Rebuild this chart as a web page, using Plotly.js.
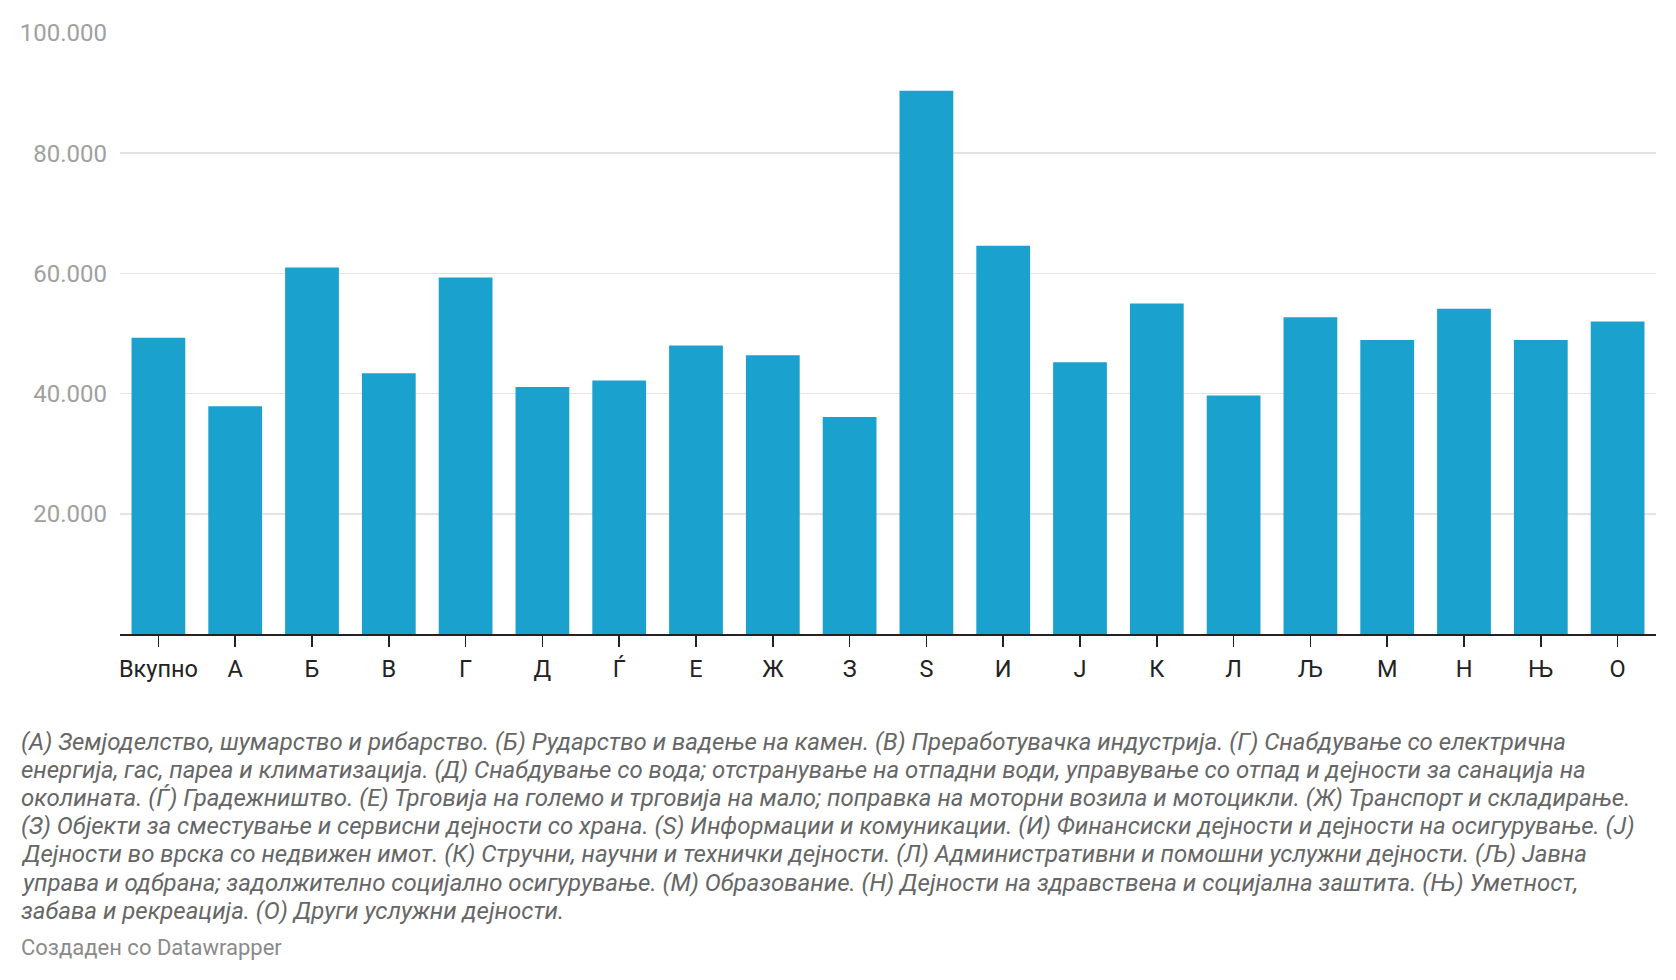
<!DOCTYPE html>
<html>
<head>
<meta charset="utf-8">
<script src="https://cdn.plot.ly/plotly-3.0.1.min.js"></script>
<style>
  body { margin: 0; background: #fff; }
  #plot { width: 1676px; height: 980px; }
</style>
</head>
<body>
<div id="plot"></div>
<script>
var categories = ["Вкупно", "А", "Б", "В", "Г", "Д", "Ѓ", "Е", "Ж", "З",
                  "S", "И", "Ј", "К", "Л", "Љ", "М", "Н", "Њ", "О"];
var values = [49300, 37900, 61000, 43400, 59300, 41100, 42200, 48000, 46400, 36100,
              90400, 64600, 45200, 55000, 39700, 52700, 48900, 54100, 48900, 52000];
var yTicks = [20000, 40000, 60000, 80000, 100000];

var noteLines = [
    "(А) Земјоделство, шумарство и рибарство. (Б) Рударство и вадење на камен. (В) Преработувачка индустрија. (Г) Снабдување со електрична",
    "енергија, гас, пареа и климатизација. (Д) Снабдување со вода; отстранување на отпадни води, управување со отпад и дејности за санација на",
    "околината. (Ѓ) Градежништво. (Е) Трговија на големо и трговија на мало; поправка на моторни возила и мотоцикли. (Ж) Транспорт и складирање.",
    "(З) Објекти за сместување и сервисни дејности со храна. (S) Информации и комуникации. (И) Финансиски дејности и дејности на осигурување. (Ј)",
    "Дејности во врска со недвижен имот. (К) Стручни, научни и технички дејности. (Л) Административни и помошни услужни дејности. (Љ) Јавна",
    "управа и одбрана; задолжително социјално осигурување. (М) Образование. (Н) Дејности на здравствена и социјална заштита. (Њ) Уметност,",
    "забава и рекреација. (О) Други услужни дејности."
];
var credit = "Создаден со Datawrapper";

function plot(){
    var W = 1676, H = 980;
    var m = {l: 120, r: 20, t: 33, b: 346};
    var pw = W - m.l - m.r, ph = H - m.t - m.b;
    // pixel -> paper helpers for the footnote block
    function px(x){ return (x - m.l) / pw; }
    function py(y){ return (H - m.b - y) / ph; }

    var trace = {
        type: "bar",
        x: categories,
        y: values,
        marker: {color: "#1aa1cd"},
        hoverinfo: "x+y"
    };
    var layout = {
        width: W,
        height: H,
        margin: m,
        paper_bgcolor: "#fff",
        plot_bgcolor: "#fff",
        separators: ",.",
        bargap: 0.3,
        showlegend: false,
        font: {family: "Roboto, sans-serif", color: "#222"},
        xaxis: {
            type: "category",
            showgrid: false,
            showline: true,
            linecolor: "#222",
            linewidth: 2,
            ticks: "outside",
            ticklen: 11,
            tickwidth: 1.5,
            tickcolor: "#222",
            ticklabelstandoff: 2,
            tickfont: {size: 23.5, color: "#222"},
            fixedrange: true
        },
        yaxis: {
            range: [0, 100000],
            tickvals: yTicks,
            tickformat: ",d",
            showgrid: true,
            gridcolor: "#e3e3e3",
            gridwidth: 1.5,
            zeroline: false,
            showline: false,
            ticks: "",
            ticklabelstandoff: 12,
            tickfont: {size: 24, color: "#a0a0a0"},
            fixedrange: true
        },
        annotations: []
    };
    // footnote lines, one annotation each so the line spacing can be set
    var lineY = [742, 770, 798, 826, 854, 883, 911];
    for (var i = 0; i < noteLines.length; i++){
        layout.annotations.push({
            xref: "paper", yref: "paper",
            x: px(19), y: py(lineY[i]),
            xanchor: "left", yanchor: "middle",
            align: "left",
            showarrow: false,
            text: noteLines[i],
            font: {family: "Roboto, sans-serif", size: 24, color: "#666", style: "italic"}
        });
    }
    layout.annotations.push({
        xref: "paper", yref: "paper",
        x: px(19), y: py(947),
        xanchor: "left", yanchor: "middle",
        align: "left",
        showarrow: false,
        text: credit,
        font: {family: "Roboto, sans-serif", size: 22, color: "#8a8a8a"}
    });
    Plotly.newPlot("plot", [trace], layout, {displayModeBar: false, staticPlot: true});
}
plot();
</script>
</body>
</html>
